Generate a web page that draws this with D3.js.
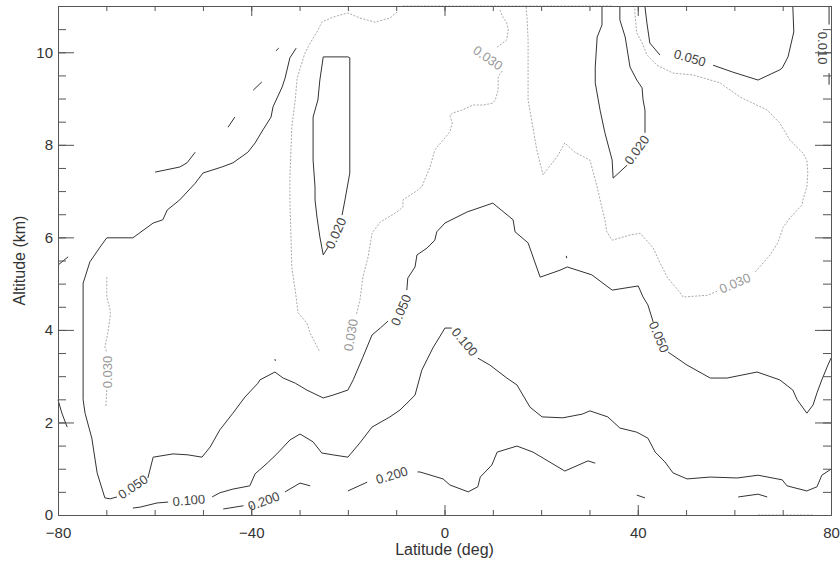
<!DOCTYPE html>
<html>
<head>
<meta charset="utf-8">
<script src="https://cdn.jsdelivr.net/npm/d3@7"></script>
<style>
body { margin: 0; background: #fff; }
text { font-family: "Liberation Sans", Arial, sans-serif; fill: #333; }
</style>
</head>
<body>
<svg width="840" height="561"></svg>
<script>
// axis ticks
var xMajor = [-80, -40, 0, 40, 80];
var xMinor = d3.range(-80, 81, 10);
var yMajor = [0, 2, 4, 6, 8, 10];
var yMinor = d3.range(0, 11.01, 0.5);

// contour 0.050 (long solid line, split where labels sit) [lat, alt km]
var c050_a = [[-30.7,10.09],[-32.0,9.88],[-33.0,9.44],[-33.6,9.25],[-35.5,8.82],[-35.9,8.60],[-37.6,8.32],
    [-39.2,8.04],[-40.7,7.84],[-43.8,7.61],[-46.1,7.52],[-50.0,7.39],[-51.6,7.17],[-54.8,6.81],[-57.4,6.59],
    [-58.3,6.38],[-60.3,6.31],[-64.5,5.99],[-69.9,5.99],[-71.3,5.79],[-73.4,5.47],[-74.4,5.14],[-74.8,5.01],
    [-74.8,2.49],[-74.4,2.20],[-73.0,1.66],[-71.9,0.91],[-70.3,0.37],[-69.2,0.35],[-67.8,0.39]];
var c050_b = [[-61.4,0.80],[-60.3,1.25],[-56.2,1.32],[-53.1,1.30],[-50.2,1.25],[-48.5,1.47],[-46.5,1.84],
    [-43.8,2.20],[-41.3,2.55],[-38.6,2.85],[-38.2,2.92],[-35.1,3.09],[-33.4,2.96],[-30.9,2.85],[-28.5,2.70],
    [-25.1,2.53],[-23.1,2.59],[-20.0,2.70],[-18.9,2.92],[-16.9,3.41],[-15.0,3.89],[-13.3,4.04],[-11.7,4.19]];
var c050_c = [[-7.8,4.86],[-7.6,5.12],[-6.1,5.36],[-5.7,5.62],[-3.6,5.77],[-2.0,5.94],[-1.6,6.12],[0.1,6.31],
    [4.7,6.55],[10.0,6.74],[14.2,6.38],[14.6,6.12],[17.3,5.88],[19.8,5.14],[23.9,5.29],[25.4,5.36],[30.5,5.19],
    [34.7,4.86],[40.1,4.95],[41.1,4.71],[42.1,4.54],[43.2,4.17]];
var c050_d = [[46.3,3.52],[50.2,3.24],[55.0,2.96],[58.5,2.96],[64.7,3.09],[69.4,2.92],[72.1,2.70],[73.0,2.49],
    [75.0,2.20],[76.3,2.38],[77.1,2.64],[78.1,2.92],[79.2,3.20],[80,3.39]];
// contour 0.050 top right
var c050_e = [[41.5,10.98],[41.9,10.63],[42.5,10.20],[44.6,9.94]];
var c050_f = [[55.6,9.72],[59.7,9.57],[64.9,9.40],[69.4,9.62],[69.9,9.66],[71.1,9.90],[72.3,10.44],[72.1,10.98]];

// contour 0.100
var c100_a = [[-64.5,0.15],[-63.0,0.17],[-59.5,0.26],[-57.2,0.28]];
var c100_b = [[-48.1,0.39],[-46.5,0.48],[-43.8,0.56],[-40.3,0.63],[-39.2,0.89],[-36.7,1.12],[-34.7,1.32],
    [-32.0,1.62],[-29.9,1.75],[-27.2,1.58],[-25.4,1.34],[-23.1,1.30],[-20.0,1.25],[-17.5,1.56],[-15.0,1.90],
    [-11.3,2.12],[-9.2,2.27],[-6.1,2.59],[-4.7,3.13],[-2.4,3.61],[0.1,4.04],[1.5,4.04]];
var c100_c = [[6.9,3.39],[9.4,3.24],[12.9,2.96],[15.0,2.81],[17.7,2.33],[20.2,2.12],[24.5,2.10],[28.5,2.18],
    [30.1,2.25],[33.8,2.12],[36.3,1.88],[39.8,1.79],[42.1,1.66],[43.6,1.36],[45.6,1.15],[47.3,0.91],[50.2,0.78],
    [55.0,0.82],[60.6,0.80],[64.9,0.86],[69.9,0.76],[70.9,0.63],[75.0,0.52],[77.1,0.61],[78.1,0.86],[80,0.99]];

// contour 0.200
var c200_a = [[-45.8,0.13],[-41.6,0.20]];
var c200_b = [[-33.0,0.50],[-29.9,0.69],[-27.8,0.63]];
var c200_c = [[-20.0,0.52],[-16.0,0.71]];
var c200_d = [[-5.6,0.93],[-5.1,0.93],[-0.3,0.78],[1.1,0.65],[4.9,0.50],[6.9,0.61],[7.4,0.82],[9.8,1.08],
    [10.9,1.36],[15.0,1.49],[18.3,1.36],[20.4,1.23],[24.9,0.95],[29.7,1.17],[31.2,1.12]];
var c200_e = [[39.8,0.43],[41.5,0.37]];
var c200_f = [[60.8,0.39],[64.9,0.45],[66.8,0.39]];

// contour 0.020 (two loops)
var c020_a = [[-25.1,5.62],[-25.8,6.01],[-26.4,6.44],[-26.8,6.81],[-26.8,7.09],[-27.2,7.67],[-27.2,8.60],
    [-26.2,8.97],[-25.8,9.40],[-25.1,9.90],[-20.0,9.90],[-19.6,9.88],[-19.6,7.39],[-20.6,6.81],[-21.2,6.48]];
var c020_b = [[-24.1,5.79],[-25.1,5.62]];
var c020_c = [[41.5,8.26],[41.5,8.75],[41.1,8.97],[40.9,9.23],[39.8,9.40],[38.4,9.68],[37.4,10.33],
    [36.3,10.70],[36.3,10.98]];
var c020_d = [[37.8,7.56],[34.9,7.28],[34.7,7.67],[33.2,8.26],[32.2,8.75],[31.2,9.34],[31.2,9.68],[31.6,10.33],
    [32.6,10.59],[32.6,10.98]];
// dashed pieces upper left
var cDash = [
    [[-59.9,7.41],[-54.8,7.52],[-53.3,7.61],[-51.6,7.84]],
    [[-44.8,8.38],[-43.4,8.60]],
    [[-39.6,9.18],[-37.8,9.36]],
    [[-34.9,10.03],[-34.3,10.09]]
];
// short pieces at the edges
var cEdge = [
    [[-80,5.40],[-77.9,5.58]],
    [[-80,2.49],[-79.2,2.20],[-78.1,1.90]],
    [[79.6,11.0],[79.6,10.6]],
    [[79.6,9.55],[79.6,9.3]],
    [[-35.1,3.37],[-35.0,3.33]],
    [[25.2,5.60],[25.3,5.55]]
];

// contour 0.030 (grey, dotted)
var c030_a = [[-69.9,5.14],[-69.9,4.71],[-69.2,4.43],[-69.2,4.28],[-69.7,3.93],[-70.3,3.63],[-69.9,3.52]];
var c030_b = [[-69.9,2.70],[-70.1,2.33]];
var c030_c = [[-9.8,10.87],[-11.3,10.74],[-14.4,10.65],[-17.5,10.74],[-20.0,10.85],[-23.1,10.76],[-25.4,10.65],
    [-26.4,10.44],[-27.8,10.20],[-28.9,9.98],[-30.5,9.44],[-30.9,8.97],[-31.6,8.38],[-32.0,7.30],[-32.0,6.81],
    [-31.6,5.36],[-30.9,4.86],[-30.3,4.37],[-28.5,4.15],[-27.8,3.93],[-25.8,3.52]];
var c030_d = [[-18.2,4.35],[-17.5,4.65],[-16.9,5.14],[-15.8,5.58],[-15.0,6.09],[-13.3,6.33],[-9.8,6.55],
    [-8.6,6.66],[-8.6,6.81],[-6.1,6.98],[-4.7,7.09],[-3.0,7.52],[-2.0,7.89],[0.1,8.15],[1.1,8.28],[1.6,8.47],
    [1.1,8.64],[1.8,8.69],[3.6,8.75],[5.9,8.86],[8.0,8.86],[10.0,8.90],[10.5,8.97],[11.1,9.18],[11.1,9.47],[12.1,9.62]];
var c030_e = [[10.9,10.11],[12.9,10.27],[13.2,10.48],[12.9,10.63],[12.1,10.76],[11.5,10.91]];
var c030_f = [[16.9,10.98],[17.1,10.70],[17.3,10.27],[17.3,8.97],[18.3,8.38],[19.1,7.89],[20.4,7.35],[21.2,7.46],
    [23.3,7.74],[24.9,8.04],[27.0,7.84],[30.1,7.67],[31.6,7.09],[32.2,6.81],[33.2,6.38],[33.6,6.12],[34.7,5.94],
    [38.4,6.05],[40.5,6.09],[43.2,5.77],[44.6,5.45],[46.1,5.14],[48.8,4.80],[49.4,4.71],[54.5,4.75],[56.5,4.84]];
var c030_g = [[64.3,5.25],[67.4,5.62],[69.0,5.88],[70.1,6.22],[71.5,6.42],[74.0,6.70],[74.2,6.81],[75.0,7.09],
    [75.2,7.39],[75.0,7.67],[74.2,7.82],[71.5,8.10],[69.4,8.47],[66.8,8.75],[61.2,9.03],[57.0,9.34],[51.4,9.51],
    [47.3,9.55],[44.0,9.72],[41.9,9.94],[41.1,10.16],[39.8,10.42],[39.4,10.85],[39.4,10.98]];
var c030_h = [[-8.6,11.0],[34.7,11.0]];
var c030_i = [[64.9,0.0],[76.3,0.0]];

// contour labels: text, lat, alt, rotation
var labelText = ["0.050", "0.050", "0.050", "0.050", "0.100", "0.100", "0.200", "0.200", "0.020", "0.020",
    "0.030", "0.030", "0.030", "0.030", "0.010"];
var labelLat = [-64.5, -9.0, 44.4, 50.8, -52.9, 4.2, -37.4, -10.9, -22.5, 39.8, -69.7, -19.4, 9.0, 60.1, 78.3];
var labelAlt = [0.61, 4.43, 3.85, 9.88, 0.32, 3.74, 0.30, 0.86, 6.09, 7.89, 3.09, 3.89, 9.88, 5.01, 10.09];
var labelAngle = [-34, -67, 67, 16, -5, 50, -20, -17, -66, -54, -90, -80, 35, -23, 90];

var solidLines = [c050_a, c050_b, c050_c, c050_d, c050_e, c050_f, c100_a, c100_b, c100_c,
    c200_a, c200_b, c200_c, c200_d, c200_e, c200_f, c020_a, c020_b, c020_c, c020_d];
var greyLines = [c030_a, c030_b, c030_c, c030_d, c030_e, c030_f, c030_g, c030_h, c030_i];

var svg = d3.select("svg"),
    mLeft = 58, mRight = 831, mTop = 6, mBottom = 515;

var x = d3.scaleLinear().domain([-80, 80]).range([mLeft, mRight]);
var y = d3.scaleLinear().domain([0, 11]).range([mBottom, mTop]);

var line = d3.line()
    .x(function (d) { return x(d[0]); })
    .y(function (d) { return y(d[1]); });

// contours
svg.append("g")
    .selectAll("path")
    .data(greyLines)
    .enter().append("path")
    .attr("d", line)
    .attr("fill", "none")
    .attr("stroke", "#aaa")
    .attr("stroke-width", 1)
    .attr("stroke-dasharray", "2,1.5");

svg.append("g")
    .selectAll("path")
    .data(solidLines.concat(cDash, cEdge))
    .enter().append("path")
    .attr("d", line)
    .attr("fill", "none")
    .attr("stroke", "#333")
    .attr("stroke-width", 1);

svg.append("g")
    .selectAll("text")
    .data(labelText)
    .enter().append("text")
    .attr("transform", function (d, i) {
        return "translate(" + x(labelLat[i]) + "," + y(labelAlt[i]) + ") rotate(" + labelAngle[i] + ")";
    })
    .attr("text-anchor", "middle")
    .attr("dy", "0.35em")
    .attr("font-size", 13)
    .style("fill", function (d) { return d == "0.030" ? "#999" : "#444"; })
    .text(function (d) { return d; });

// frame with ticks on all four sides
function styleAxis(g) {
    g.selectAll("path, line").attr("stroke", "#555");
    g.selectAll("text").attr("font-size", 15).style("fill", "#333")
        .attr("font-family", "\"Liberation Sans\", Arial, sans-serif");
}

svg.append("g").attr("transform", "translate(0," + mBottom + ")")
    .call(d3.axisBottom(x).tickValues(xMinor).tickSize(-5).tickFormat("").tickSizeOuter(0)).call(styleAxis);
svg.append("g").attr("transform", "translate(0," + mBottom + ")")
    .call(d3.axisBottom(x).tickValues(xMajor).tickSize(-10).tickPadding(12).tickSizeOuter(0)).call(styleAxis);
svg.append("g").attr("transform", "translate(0," + mTop + ")")
    .call(d3.axisTop(x).tickValues(xMinor).tickSize(-5).tickFormat("").tickSizeOuter(0)).call(styleAxis);
svg.append("g").attr("transform", "translate(0," + mTop + ")")
    .call(d3.axisTop(x).tickValues(xMajor).tickSize(-10).tickFormat("").tickSizeOuter(0)).call(styleAxis);

svg.append("g").attr("transform", "translate(" + mLeft + ",0)")
    .call(d3.axisLeft(y).tickValues(yMinor).tickSize(-8).tickFormat("").tickSizeOuter(0)).call(styleAxis);
svg.append("g").attr("transform", "translate(" + mLeft + ",0)")
    .call(d3.axisLeft(y).tickValues(yMajor).tickSize(-16).tickPadding(5).tickSizeOuter(0)).call(styleAxis);
svg.append("g").attr("transform", "translate(" + mRight + ",0)")
    .call(d3.axisRight(y).tickValues(yMinor).tickSize(-8).tickFormat("").tickSizeOuter(0)).call(styleAxis);
svg.append("g").attr("transform", "translate(" + mRight + ",0)")
    .call(d3.axisRight(y).tickValues(yMajor).tickSize(-16).tickFormat("").tickSizeOuter(0)).call(styleAxis);

// axis titles
svg.append("text")
    .attr("x", (mLeft + mRight) / 2)
    .attr("y", 555)
    .attr("text-anchor", "middle")
    .attr("font-size", 16)
    .text("Latitude (deg)");

svg.append("text")
    .attr("transform", "translate(25," + (mTop + mBottom) / 2 + ") rotate(-90)")
    .attr("text-anchor", "middle")
    .attr("font-size", 16)
    .text("Altitude (km)");
</script>
</body>
</html>
